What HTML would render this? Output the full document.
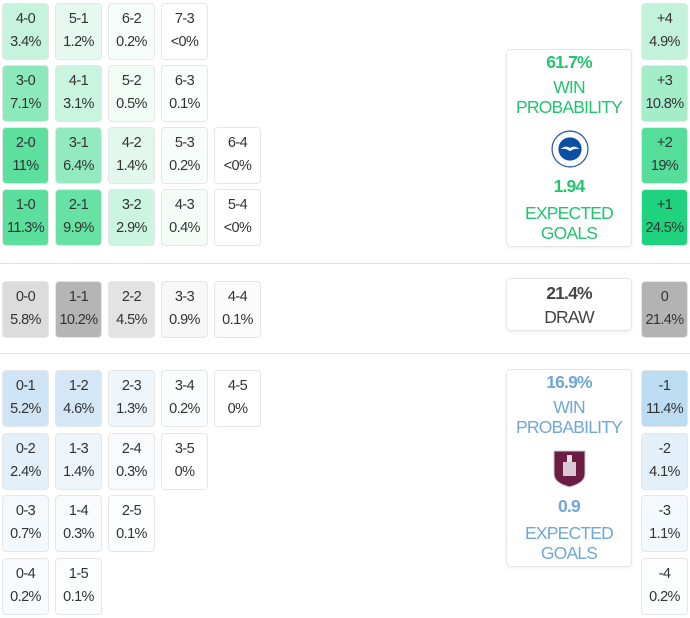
<!DOCTYPE html>
<html><head><meta charset="utf-8"><style>
body{margin:0;width:690px;height:618px;background:#fff;position:relative;overflow:hidden;font-family:"Liberation Sans",sans-serif;}
.c{position:absolute;width:47px;height:57px;border:1px solid #e6e6e6;border-radius:4px;box-sizing:border-box;color:#333;font-size:14.5px;text-align:center;letter-spacing:-0.6px}
.c span{display:block;line-height:23px}
.c span:first-child{margin-top:4px}
.hr{position:absolute;left:0;width:690px;height:1px;background:#e3e3e3}
.card{position:absolute;left:506px;width:126px;border:1px solid #e6e6e6;border-radius:5px;box-shadow:0 1px 3px rgba(0,0,0,.08);box-sizing:border-box;text-align:center;font-size:17.5px;letter-spacing:-0.8px}
.card div{position:absolute;left:0;width:100%}
.b{font-weight:bold}
</style></head><body>
<div class="c" style="left:2px;top:3px;background:#c6f3dd"><span>4-0</span><span>3.4%</span></div>
<div class="c" style="left:55px;top:3px;background:#e6f9ef"><span>5-1</span><span>1.2%</span></div>
<div class="c" style="left:108px;top:3px;background:#f7fdfa"><span>6-2</span><span>0.2%</span></div>
<div class="c" style="left:161px;top:3px;background:#fff"><span>7-3</span><span>&lt;0%</span></div>
<div class="c" style="left:2px;top:65px;background:#8ce9bb"><span>3-0</span><span>7.1%</span></div>
<div class="c" style="left:55px;top:65px;background:#c9f4df"><span>4-1</span><span>3.1%</span></div>
<div class="c" style="left:108px;top:65px;background:#f1fcf6"><span>5-2</span><span>0.5%</span></div>
<div class="c" style="left:161px;top:65px;background:#fafefc"><span>6-3</span><span>0.1%</span></div>
<div class="c" style="left:2px;top:127px;background:#5ddf9e"><span>2-0</span><span>11%</span></div>
<div class="c" style="left:55px;top:127px;background:#94eac0"><span>3-1</span><span>6.4%</span></div>
<div class="c" style="left:108px;top:127px;background:#e3f8ed"><span>4-2</span><span>1.4%</span></div>
<div class="c" style="left:161px;top:127px;background:#f7fdfa"><span>5-3</span><span>0.2%</span></div>
<div class="c" style="left:214px;top:127px;background:#fff"><span>6-4</span><span>&lt;0%</span></div>
<div class="c" style="left:2px;top:189px;background:#5bdf9d"><span>1-0</span><span>11.3%</span></div>
<div class="c" style="left:55px;top:189px;background:#68e1a4"><span>2-1</span><span>9.9%</span></div>
<div class="c" style="left:108px;top:189px;background:#ccf5e1"><span>3-2</span><span>2.9%</span></div>
<div class="c" style="left:161px;top:189px;background:#f3fcf7"><span>4-3</span><span>0.4%</span></div>
<div class="c" style="left:214px;top:189px;background:#fff"><span>5-4</span><span>&lt;0%</span></div>

<div class="c" style="left:641px;top:3px;background:#c2f2da"><span>+4</span><span>4.9%</span></div>
<div class="c" style="left:641px;top:65px;background:#a3edc8"><span>+3</span><span>10.8%</span></div>
<div class="c" style="left:641px;top:127px;background:#55dd9a"><span>+2</span><span>19%</span></div>
<div class="c" style="left:641px;top:189px;background:#1fd37e"><span>+1</span><span>24.5%</span></div>

<div class="hr" style="top:263px"></div>
<div class="c" style="left:2px;top:281px;background:#dcdcdc"><span>0-0</span><span>5.8%</span></div>
<div class="c" style="left:55px;top:281px;background:#b5b5b5"><span>1-1</span><span>10.2%</span></div>
<div class="c" style="left:108px;top:281px;background:#e3e3e3"><span>2-2</span><span>4.5%</span></div>
<div class="c" style="left:161px;top:281px;background:#f7f7f7"><span>3-3</span><span>0.9%</span></div>
<div class="c" style="left:214px;top:281px;background:#fbfbfb"><span>4-4</span><span>0.1%</span></div>
<div class="c" style="left:641px;top:281px;background:#b3b3b3"><span>0</span><span>21.4%</span></div>
<div class="hr" style="top:353px"></div>

<div class="c" style="left:2px;top:370px;background:#cfe5f5"><span>0-1</span><span>5.2%</span></div>
<div class="c" style="left:55px;top:370px;background:#d3e7f6"><span>1-2</span><span>4.6%</span></div>
<div class="c" style="left:108px;top:370px;background:#eef6fc"><span>2-3</span><span>1.3%</span></div>
<div class="c" style="left:161px;top:370px;background:#fafcfe"><span>3-4</span><span>0.2%</span></div>
<div class="c" style="left:214px;top:370px;background:#fff"><span>4-5</span><span>0%</span></div>
<div class="c" style="left:2px;top:433px;background:#e3f0fa"><span>0-2</span><span>2.4%</span></div>
<div class="c" style="left:55px;top:433px;background:#edf5fb"><span>1-3</span><span>1.4%</span></div>
<div class="c" style="left:108px;top:433px;background:#f8fbfe"><span>2-4</span><span>0.3%</span></div>
<div class="c" style="left:161px;top:433px;background:#fff"><span>3-5</span><span>0%</span></div>
<div class="c" style="left:2px;top:495px;background:#f4f9fd"><span>0-3</span><span>0.7%</span></div>
<div class="c" style="left:55px;top:495px;background:#f8fbfe"><span>1-4</span><span>0.3%</span></div>
<div class="c" style="left:108px;top:495px;background:#fbfdfe"><span>2-5</span><span>0.1%</span></div>
<div class="c" style="left:2px;top:558px;background:#f8fbfe"><span>0-4</span><span>0.2%</span></div>
<div class="c" style="left:55px;top:558px;background:#fbfdfe"><span>1-5</span><span>0.1%</span></div>

<div class="c" style="left:641px;top:370px;background:#bcdcf2"><span>-1</span><span>11.4%</span></div>
<div class="c" style="left:641px;top:433px;background:#e3f0fa"><span>-2</span><span>4.1%</span></div>
<div class="c" style="left:641px;top:495px;background:#f4f9fd"><span>-3</span><span>1.1%</span></div>
<div class="c" style="left:641px;top:558px;background:#fbfdfe"><span>-4</span><span>0.2%</span></div>

<div class="card" style="top:49px;height:198px;color:#22c46e">
<div class="b" style="top:2px">61.7%</div>
<div style="top:27px">WIN</div>
<div style="top:47px">PROBABILITY</div>
<svg style="position:absolute;left:44px;top:80px" width="38" height="38" viewBox="0 0 36 36"><circle cx="18" cy="18" r="17" fill="#fff" stroke="#2a5ca8" stroke-width="1.2"/><circle cx="18" cy="18" r="11" fill="#0b4fa3"/><path d="M9 18 Q14 14 18 17 Q22 14 27 18 Q22 17 18 20 Q14 17 9 18Z" fill="#fff"/></svg>
<div class="b" style="top:126px">1.94</div>
<div style="top:153px">EXPECTED</div>
<div style="top:173px">GOALS</div>
</div>

<div class="card" style="top:278px;height:53px;color:#444">
<div class="b" style="top:4px">21.4%</div>
<div style="top:28px">DRAW</div>
</div>

<div class="card" style="top:369px;height:198px;color:#6fa8d6">
<div class="b" style="top:2px">16.9%</div>
<div style="top:27px">WIN</div>
<div style="top:47px">PROBABILITY</div>
<svg style="position:absolute;left:46px;top:79px" width="33" height="40" viewBox="0 0 33 38"><path d="M1 1 H32 V24 Q32 33 16.5 37 Q1 33 1 24Z" fill="#6c1d45" stroke="#ccc" stroke-width="1"/><rect x="10" y="12" width="13" height="14" fill="#d9c8d3"/><rect x="14" y="5" width="5" height="7" fill="#e6dde2"/></svg>
<div class="b" style="top:126px">0.9</div>
<div style="top:153px">EXPECTED</div>
<div style="top:173px">GOALS</div>
</div>
</body></html>
